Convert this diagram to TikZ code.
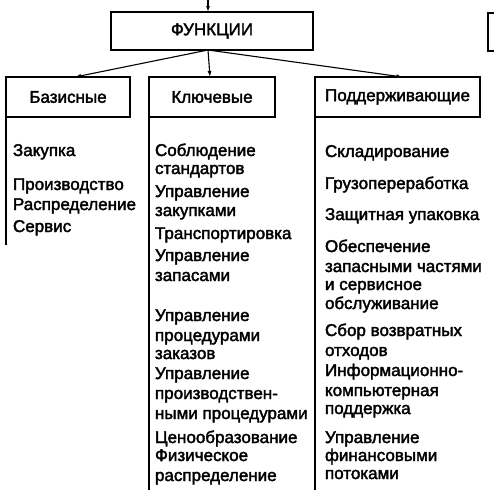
\documentclass[tikz,border=0pt]{standalone}
\usepackage{fontspec}
\newfontfamily\tfont[FakeBold=2.2]{Liberation Sans}
\usetikzlibrary{arrows.meta}
\begin{document}
\begin{tikzpicture}[x=1pt,y=-1pt,
  box/.style={draw,line width=1.3pt,inner sep=0pt,outer sep=0pt,font=\tfont\fontsize{17}{19}\selectfont},
  txt/.style={anchor=base west,inner sep=0pt,outer sep=0pt,font=\tfont\fontsize{17}{19}\selectfont},
  conn/.style={line width=1.1pt,-{Latex[length=6pt,width=4pt]}},
  col/.style={line width=1.4pt}]
\useasboundingbox (0,0) rectangle (494,490);
\clip (0,0) rectangle (494,490);
\node[box,minimum width=202pt,minimum height=38pt] (f) at (212,31) {ФУНКЦИИ};
\node[box,minimum width=124pt,minimum height=40pt] (b) at (68,97) {Базисные};
\node[box,minimum width=126pt,minimum height=40pt] (k) at (212,97) {Ключевые};
\node[box,minimum width=165pt,minimum height=40pt] (p) at (397.5,97) {Поддерживающие};
\node[box,minimum width=40pt,minimum height=38pt,anchor=north west] (r) at (488,13) {};
\coordinate (top) at (208,0);
\coordinate (o) at (208,50);
\draw[conn] (top) -- (f.north -| top);
\draw[conn] (o) -- ([xshift=7pt]b.north);
\draw[conn] (o) -- ([xshift=-2pt]k.north);
\draw[conn] (o) -- ([xshift=5pt]p.north);
\coordinate (bend) at (6,245);
\coordinate (kend) at (149,490);
\coordinate (pend) at (315,490);
\draw[col] (b.south west) -- (bend);
\draw[col] (k.south west) -- (kend);
\draw[col] (p.south west) -- (pend);
\foreach \t/\y [count=\i] in {Закупка/150,Производство/184,Распределение/204,Сервис/226}
  \node[txt] (a\i) at (13,\y+6) {\t};
\foreach \t/\y [count=\i] in {Соблюдение/150,стандартов/168,Управление/191,закупками/210,Транспортировка/233,Управление/255,запасами/275,Управление/315,процедурами/335,заказов/353,Управление/373,производствен-/393,ными процедурами/413,Ценообразование/437,Физическое/455,распределение/475}
  \node[txt] (c\i) at (155,\y+6) {\t};
\foreach \t/\y [count=\i] in {Складирование/151,Грузопереработка/183,Защитная упаковка/214,Обеспечение/246,запасными частями/266,и сервисное/284,обслуживание/303,Сбор возвратных/330,отходов/350,Информационно-/370,компьютерная/390,поддержка/408,Управление/437,финансовыми/455,потоками/473}
  \node[txt] (d\i) at (325,\y+6) {\t};
\end{tikzpicture}
\end{document}
